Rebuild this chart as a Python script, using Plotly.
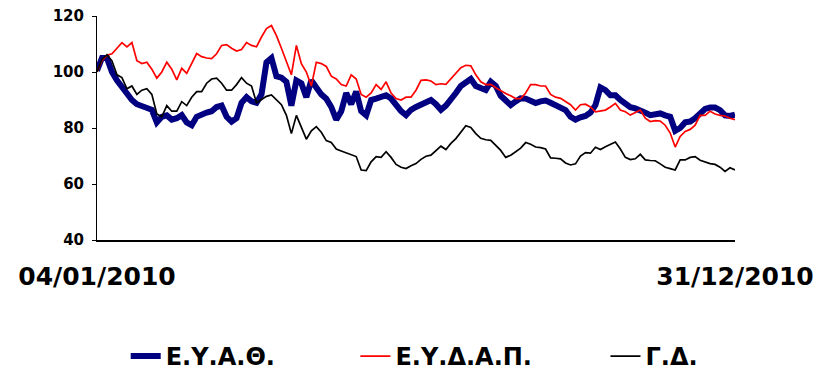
import plotly.graph_objects as go

# Tick labels (first and last trading day)
tick_labels = ["04/01/2010", "31/12/2010"]

eyath = [100.5, 105, 105, 100, 97, 94.5, 92, 90, 88.5, 88, 87, 86.5, 82, 84, 84.5, 83, 83.5, 84.6, 82, 81,
         84, 85, 85.5, 86, 87.5, 88, 84, 82.3, 83.5, 89, 91, 89.5, 89, 92, 103.5, 105, 98.5, 98, 96.5, 88,
         97, 96, 91, 97, 94, 92, 90.5, 87.5, 83, 86, 92.5, 88.5, 93, 86, 84.5, 90, 90.5, 91, 91.7, 90.5,
         88, 86, 84.6, 86.5, 87.5, 88.5, 89.5, 90, 88.5, 86.5, 88, 90, 92.5, 95, 96.5, 97.5, 95, 94, 93.6, 96.5,
         95, 91.5, 89.5, 88.2, 89.5, 90.6, 90.5, 89.5, 88.9, 89.5, 89.8, 89, 88.2, 87.5, 86.4, 84, 83, 83.8, 84.3, 85.5,
         88.2, 94.5, 93.5, 91.7, 91.7, 90, 88.8, 87.4, 87, 86.4, 85.5, 84.6, 85, 85.2, 84.5, 84, 79, 80, 82, 82.3,
         83.5, 85, 86.8, 87.3, 87.3, 86.4, 84.5, 84.3, 84.8]

eydap = [100, 104, 106, 106.5, 108.5, 110.5, 109, 110.5, 104, 103, 103.5, 101, 97.8, 100, 103.5, 101, 97.2, 101.3, 99.5, 103,
         106.6, 105.5, 105, 104.8, 106.5, 109.5, 109.8, 108.5, 107.5, 108, 110.5, 109.5, 109, 112.5, 115.5, 116.6, 113, 108.5, 104, 99,
         109.5, 103, 100, 95, 103.5, 103, 102, 98.5, 97.5, 95.5, 95, 99, 97.5, 92, 91, 92.5, 95.5, 93.8, 96.5, 92.5,
         90.5, 90, 91, 91, 93.5, 97, 97.2, 96.8, 95.5, 95.8, 95.6, 97.5, 99.5, 101.5, 102.4, 102.2, 99, 96.5, 95.5, 95.6,
         94.4, 93.2, 92.3, 91.5, 90.5, 90.5, 92.5, 95.5, 95.5, 95, 95, 92, 91, 90.6, 89.5, 88.3, 86.4, 88.3, 88.5, 87.5,
         85.8, 86, 86.4, 87.5, 88.8, 86.4, 85.8, 84.6, 85.5, 86.4, 83.5, 82.3, 82.6, 82.5, 81, 78.2, 73.2, 77, 78.8, 79.5,
         81, 84.5, 84.5, 86, 85, 84.5, 84.3, 83.5, 83]

gd = [100, 104.5, 106.2, 104, 99, 98, 94, 95, 92, 93.5, 94, 92, 85, 84, 88, 86, 86, 89.4, 88, 91,
      93, 93, 96, 97.5, 97.8, 96, 93.5, 93.5, 95.5, 98, 96, 95, 89, 90, 91.3, 91.8, 90, 88.3, 84.5, 78,
      84.5, 80, 76, 79, 80.5, 78.5, 75.5, 74.8, 72.5, 71.8, 71.2, 70.5, 69.8, 65, 64.8, 67.9, 69.8, 69.5, 71.5, 69.5,
      67, 66, 65.5, 66.5, 67.3, 68.8, 69.9, 70.3, 71.8, 73.5, 72.3, 74.5, 76.2, 78.5, 80.8, 80.2, 78, 76.3, 75.8, 75.6,
      73.8, 72, 69.5, 70.3, 71.5, 72.8, 74.8, 74.2, 73.2, 73, 72.5, 69.3, 69.2, 69, 67.5, 66.8, 67.2, 70, 71.2, 71,
      73.1, 72.3, 73.3, 74.3, 75, 72.5, 69.5, 68.7, 69, 70.6, 68.6, 68.4, 68.3, 67.2, 66, 65.5, 65, 68.6, 68.6, 69.5,
      69.8, 68.5, 67.8, 67.3, 67, 66, 64.5, 65.8, 65]

series_names = ["Ε.Υ.Α.Θ.", "Ε.Υ.Δ.Α.Π.", "Γ.Δ."]

days = list(range(len(eyath)))

FONT = "Verdana, DejaVu Sans, sans-serif"

fig = go.Figure()
fig.add_trace(go.Scatter(x=days, y=eyath, mode="lines", name=series_names[0],
                         line=dict(color="#000080", width=6), legend="legend"))
fig.add_trace(go.Scatter(x=days, y=eydap, mode="lines", name=series_names[1],
                         line=dict(color="#FF0000", width=1.7), legend="legend2"))
fig.add_trace(go.Scatter(x=days, y=gd, mode="lines", name=series_names[2],
                         line=dict(color="#000000", width=1.7), legend="legend3"))

leg_font = dict(family=FONT, size=24, color="black", weight="bold")
def leg(xpos):
    return dict(orientation="h", x=xpos, xanchor="left", y=-0.52, yanchor="middle",
                font=leg_font, bgcolor="rgba(0,0,0,0)")

fig.update_layout(
    width=815, height=375,
    margin=dict(l=89, r=88, t=7.5, b=142.5, autoexpand=False),
    paper_bgcolor="white", plot_bgcolor="white",
    showlegend=True,
    legend=leg(0.045),
    legend2=leg(0.405),
    legend3=leg(0.797),
    font=dict(family=FONT, color="black"),
)

fig.update_xaxes(
    range=[days[0], days[-1]],
    tickvals=[days[0], days[-1]], ticktext=tick_labels,
    ticks="", showgrid=False, zeroline=False, automargin=False,
    showline=True, linecolor="black", linewidth=1.5,
    tickfont=dict(family=FONT, size=25, color="black", weight="bold"),
    ticklabelstandoff=13, ticklabeloverflow="allow",
)
fig.update_yaxes(
    range=[40, 120], dtick=20, tick0=40, automargin=False,
    ticks="outside", ticklen=4, tickcolor="black", tickwidth=1,
    showgrid=False, zeroline=False,
    showline=True, linecolor="black", linewidth=1,
    tickfont=dict(family=FONT, size=15, color="black", weight="bold"),
    ticklabelstandoff=5, ticklabeloverflow="allow",
)

fig.write_html("out.html")
